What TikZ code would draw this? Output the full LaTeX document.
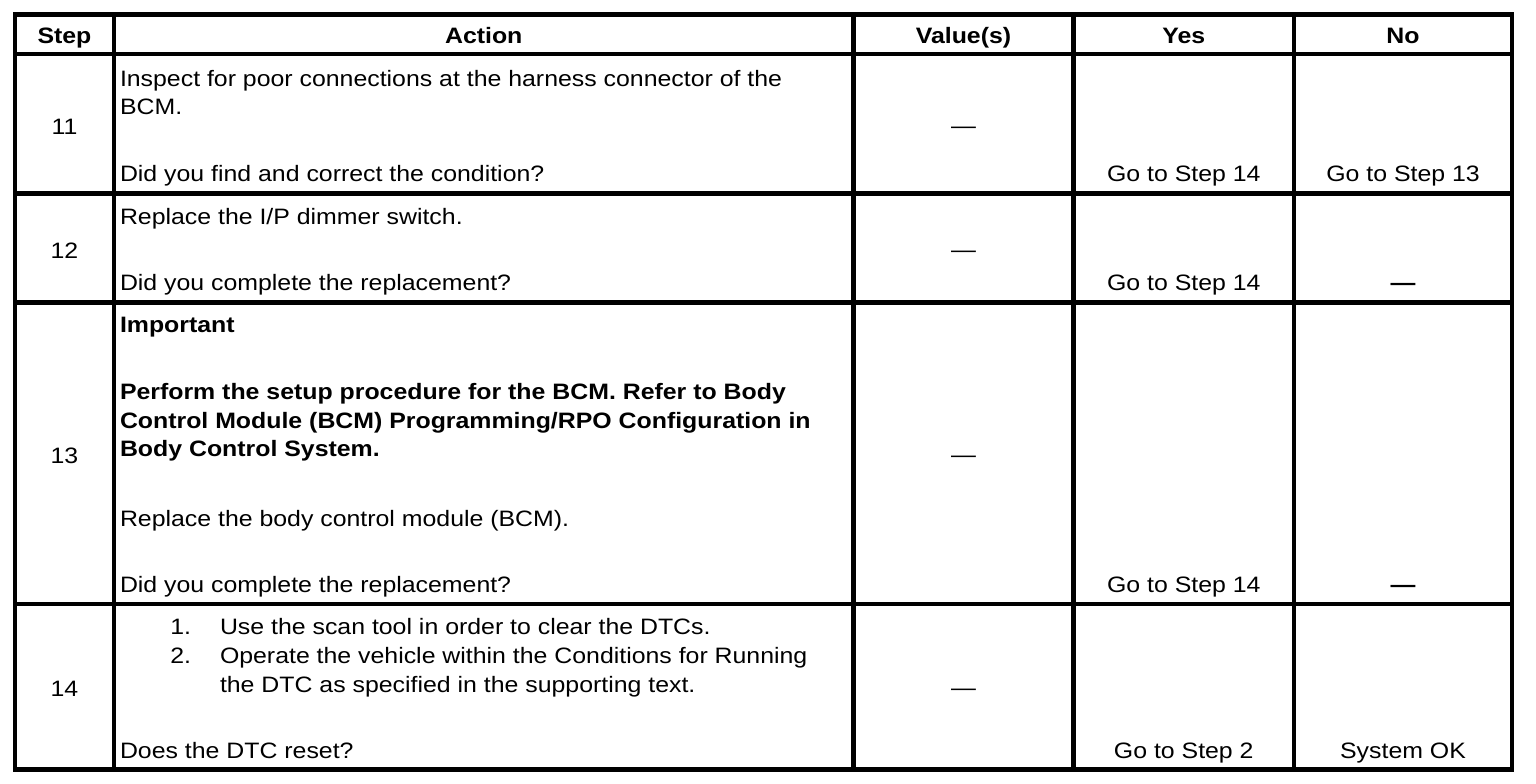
\documentclass[tikz,border=0pt]{standalone}
\usepackage{fontspec}
\setmainfont{Liberation Sans}[FakeStretch=1.115]
\begin{document}
\begin{tikzpicture}[x=1pt,y=-1pt,
  grid/.style={line width=4.5pt,line cap=rect},
  txt/.style={inner sep=0pt,outer sep=0pt,anchor=base west,font=\fontsize{22.3}{28.3}\selectfont},
  ctr/.style={inner sep=0pt,outer sep=0pt,anchor=base,font=\fontsize{22.3}{28.3}\selectfont},
  hdr/.style={ctr,font=\fontsize{22.3}{28.3}\selectfont\bfseries},
  num/.style={inner sep=0pt,outer sep=0pt,anchor=base east,font=\fontsize{22.3}{28.3}\selectfont}]
\useasboundingbox[fill=white] (0,0) rectangle (1536,784);
% grid coordinates
\def\xa{15}\def\xb{114}\def\xc{853.5}\def\xd{1073.5}\def\xe{1294}\def\xf{1512}
\def\ya{14.5}\def\yb{54}\def\yc{193.5}\def\yd{302.5}\def\ye{604}\def\yf{769.5}
\coordinate (TL) at (\xa,\ya);
\coordinate (BR) at (\xf,\yf);
\draw[grid] (TL) rectangle (BR);
\foreach \x in {\xb,\xc,\xd,\xe} \draw[grid] (\x,\ya) -- (\x,\yf);
\foreach \y in {\yb,\yc,\yd,\ye} \draw[grid] (\xa,\y) -- (\xf,\y);
% header
\node[hdr] (hstep) at (64.5,43.5) {Step};
\node[hdr] (hact) at (483.75,43.5) {Action};
\node[hdr] (hval) at (963.5,43.5) {Value(s)};
\node[hdr] (hyes) at (1183.75,43.5) {Yes};
\node[hdr] (hno) at (1403,43.5) {No};
% row 11
\node[ctr] (s11) at (64.5,134) {11};
\node[txt] (a11a) at (120,86) {Inspect for poor connections at the harness connector of the};
\node[txt] (a11b) at (120,114.3) {BCM.};
\node[txt] (a11c) at (120,181) {Did you find and correct the condition?};
\node[ctr] (v11) at (963.5,133) {—};
\node[ctr] (y11) at (1183.75,181) {Go to Step 14};
\node[ctr] (n11) at (1403,181) {Go to Step 13};
% row 12
\node[ctr] (s12) at (64.5,258) {12};
\node[txt] (a12a) at (120,224.5) {Replace the I/P dimmer switch.};
\node[txt] (a12b) at (120,290.5) {Did you complete the replacement?};
\node[ctr] (v12) at (963.5,257) {—};
\node[ctr] (y12) at (1183.75,290.5) {Go to Step 14};
\node[ctr,font=\fontsize{22.3}{28.3}\selectfont\bfseries] (n12) at (1403,290.5) {—};
% row 13
\node[ctr] (s13) at (64.5,463) {13};
\node[txt,font=\fontsize{22.3}{28.3}\selectfont\bfseries] (a13a) at (120,332.5) {Important};
\node[txt,font=\fontsize{22.3}{28.3}\selectfont\bfseries] (a13b) at (120,399.5) {Perform the setup procedure for the BCM. Refer to Body};
\node[txt,font=\fontsize{22.3}{28.3}\selectfont\bfseries] (a13c) at (120,428) {Control Module (BCM) Programming/RPO Configuration in};
\node[txt,font=\fontsize{22.3}{28.3}\selectfont\bfseries] (a13d) at (120,456.5) {Body Control System.};
\node[txt] (a13e) at (120,526.5) {Replace the body control module (BCM).};
\node[txt] (a13f) at (120,592.5) {Did you complete the replacement?};
\node[ctr] (v13) at (963.5,462) {—};
\node[ctr] (y13) at (1183.75,592.5) {Go to Step 14};
\node[ctr,font=\fontsize{22.3}{28.3}\selectfont\bfseries] (n13) at (1403,592.5) {—};
% row 14
\node[ctr] (s14) at (64.5,696.5) {14};
\node[num] (l1) at (191,634.5) {1.};
\node[txt] (a14a) at (220,634.5) {Use the scan tool in order to clear the DTCs.};
\node[num] (l2) at (191,663.5) {2.};
\node[txt] (a14b) at (220,663.5) {Operate the vehicle within the Conditions for Running};
\node[txt] (a14c) at (220,692) {the DTC as specified in the supporting text.};
\node[txt] (a14d) at (120,758.5) {Does the DTC reset?};
\node[ctr] (v14) at (963.5,695.5) {—};
\node[ctr] (y14) at (1183.75,758.5) {Go to Step 2};
\node[ctr] (n14) at (1403,758.5) {System OK};
\end{tikzpicture}
\end{document}
